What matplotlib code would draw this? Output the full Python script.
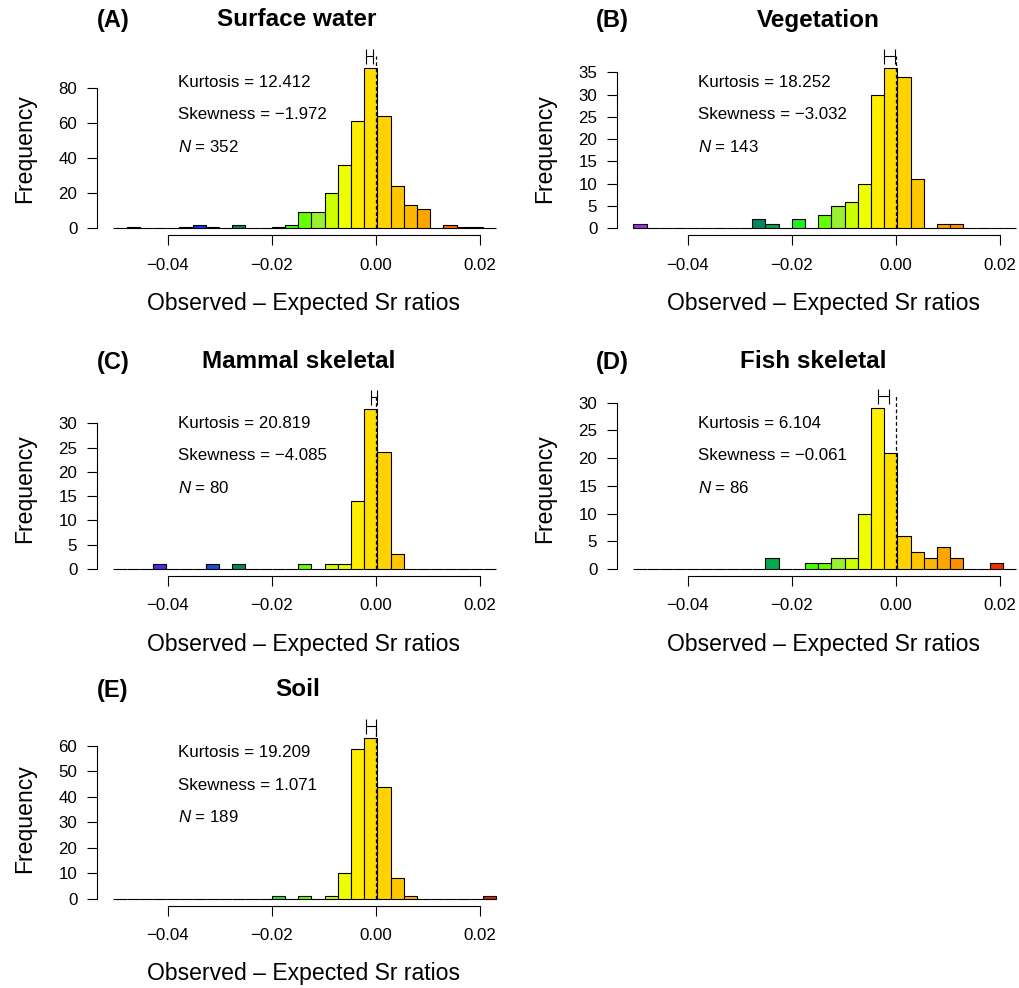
import matplotlib.pyplot as plt
import numpy as np

plt.rcParams['font.family'] = ['Liberation Sans', 'DejaVu Sans']
plt.rcParams['mathtext.fontset'] = 'custom'
plt.rcParams['mathtext.rm'] = 'Liberation Sans'
plt.rcParams['mathtext.it'] = 'Liberation Sans:italic'

# shared histogram breaks (29 bins)
bin_lo, bin_hi, n_bins = -0.0505, 0.0232, 29

surface_water = [0, 1, 0, 0, 0, 1, 2, 1, 0, 2, 0, 0, 1, 2, 9, 9, 20, 36, 61, 91,
                 64, 24, 13, 11, 0, 2, 1, 1, 0]
vegetation = [1, 0, 0, 0, 0, 0, 0, 0, 0, 2, 1, 0, 2, 0, 3, 5, 6, 10, 30, 36,
              34, 11, 0, 1, 1, 0, 0, 0, 0]
mammal_skeletal = [0, 0, 0, 1, 0, 0, 0, 1, 0, 1, 0, 0, 0, 0, 1, 0, 1, 1, 14, 33,
                   24, 3, 0, 0, 0, 0, 0, 0, 0]
fish_skeletal = [0, 0, 0, 0, 0, 0, 0, 0, 0, 0, 2, 0, 0, 1, 1, 2, 2, 10, 29, 21,
                 6, 3, 2, 4, 2, 0, 0, 1, 0]
soil = [0, 0, 0, 0, 0, 0, 0, 0, 0, 0, 0, 0, 1, 0, 1, 0, 1, 10, 59, 63,
        44, 8, 1, 0, 0, 0, 0, 0, 1]

panel_letters = ['(A)', '(B)', '(C)', '(D)', '(E)']
panel_titles = ['Surface water', 'Vegetation', 'Mammal skeletal', 'Fish skeletal', 'Soil']
panel_counts = [surface_water, vegetation, mammal_skeletal, fish_skeletal, soil]
kurtosis = ['12.412', '18.252', '20.819', '6.104', '19.209']
skewness = ['\u22121.972', '\u22123.032', '\u22124.085', '\u22120.061', '1.071']
sample_n = [352, 143, 80, 86, 189]
# interval drawn above the peak
ci_low = [-0.00187, -0.0022, -0.0009, -0.0034, -0.0019]
ci_high = [-0.00046, -0.0001, 0.0003, -0.0013, 0.00006]
ytick_max = [80, 35, 30, 30, 60]
ytick_step = [20, 5, 5, 5, 10]
xticks = [-0.04, -0.02, 0.00, 0.02]
xtick_labels = ['\u22120.04', '\u22120.02', '0.00', '0.02']

palette = ['#9933dd', '#7a22dd', '#6622e6', '#5522ee', '#3322ee', '#2222ff',
           '#1133ff', '#1155cc', '#007799', '#008866', '#00aa4d', '#11cc33',
           '#22ee22', '#44ff00', '#66ff00', '#99f033', '#ccff00', '#eeff00',
           '#ffee00', '#ffdd00', '#ffd200', '#ffc600', '#ffb600', '#ffa500',
           '#ff8f00', '#ff6a00', '#ff5000', '#ee3300', '#dd2200']

W, H = 1019, 988
fig = plt.figure(figsize=(W / 100, H / 100), dpi=100)


def fx(x):
    return x / W


def fy(y):
    return 1 - y / H


# layout in pixels: y-axis line, zero position, baseline, pixels per count
col_axis = [97, 617, 97, 617, 97]
col_zero = [375.7, 895.7, 375.7, 895.7, 375.7]
baselines = [228.3, 228.3, 569, 569, 898.5]
px_per_count = [1.759, 4.457, 4.857, 5.543, 2.542]
title_y = [20, 20, 362, 362, 690]
letter_x = [113, 612, 113, 612, 113]
title_x = [297, 818, 299, 813, 298]
xs = 5195.0  # pixels per unit on x

edges = np.linspace(bin_lo, bin_hi, n_bins + 1)

for i in range(5):
    zero, base, ppu = col_zero[i], baselines[i], px_per_count[i]
    left_px, right_px = col_axis[i], zero + 0.026 * xs
    top_px, bottom_px = base - 185, base + 7
    ax = fig.add_axes([fx(left_px), fy(bottom_px), fx(right_px - left_px),
                       (bottom_px - top_px) / H])
    ax.set_xlim((left_px - zero) / xs, 0.026)
    ax.set_ylim(-7 / ppu, 185 / ppu)
    ax.patch.set_visible(False)

    counts = panel_counts[i]
    ax.bar(edges[:-1], counts, width=np.diff(edges), align='edge',
           color=palette, edgecolor='black', linewidth=0.8, zorder=2)

    # interval marker sits a few pixels above the tallest bar
    y_h = max(counts) + 12 / ppu
    mid = (ci_low[i] + ci_high[i]) / 2
    half = (ci_high[i] - ci_low[i]) / 2
    ax.errorbar([mid], [y_h], xerr=[[half], [half]], fmt='none', ecolor='black',
                elinewidth=0.8, capsize=5.4, capthick=0.8, zorder=4, clip_on=False)
    ax.plot([0, 0], [0, y_h], color='black', lw=0.9, ls=(0, (3, 2)), zorder=3)

    for s in ['top', 'right']:
        ax.spines[s].set_visible(False)
    ax.spines['left'].set_bounds(0, ytick_max[i])
    ax.spines['bottom'].set_bounds(-0.04, 0.02)
    for s in ['left', 'bottom']:
        ax.spines[s].set_linewidth(0.8)
    ax.set_yticks(np.arange(0, ytick_max[i] + 1, ytick_step[i]))
    ax.set_xticks(xticks)
    ax.set_xticklabels(xtick_labels)
    ax.tick_params(direction='out', length=7.2, width=0.8, labelsize=12.2)
    ax.tick_params(axis='x', pad=9)
    ax.tick_params(axis='y', pad=7)

    fig.text(fx(letter_x[i]), fy(title_y[i]), panel_letters[i], fontsize=17,
             fontweight='bold', ha='center', va='center')
    fig.text(fx(title_x[i]), fy(title_y[i]), panel_titles[i], fontsize=17.5,
             fontweight='bold', ha='center', va='center')

    tx = col_axis[i] + 81
    ty = base - 146
    fig.text(fx(tx), fy(ty), 'Kurtosis = %s' % kurtosis[i], fontsize=12.2,
             ha='left', va='center')
    fig.text(fx(tx), fy(ty + 32.5), 'Skewness = %s' % skewness[i], fontsize=12.2,
             ha='left', va='center')
    fig.text(fx(tx), fy(ty + 64.5), r'$N$ = %d' % sample_n[i], fontsize=12.2,
             ha='left', va='center')

    fig.text(fx(col_axis[i] - 72), fy(base - 80), 'Frequency', fontsize=16.6,
             rotation=90, ha='center', va='center')
    fig.text(fx(zero - 72.5), fy(base + 75), 'Observed \u2013 Expected Sr ratios',
             fontsize=16.6, ha='center', va='center')

fig.savefig('out.png', dpi=100)
